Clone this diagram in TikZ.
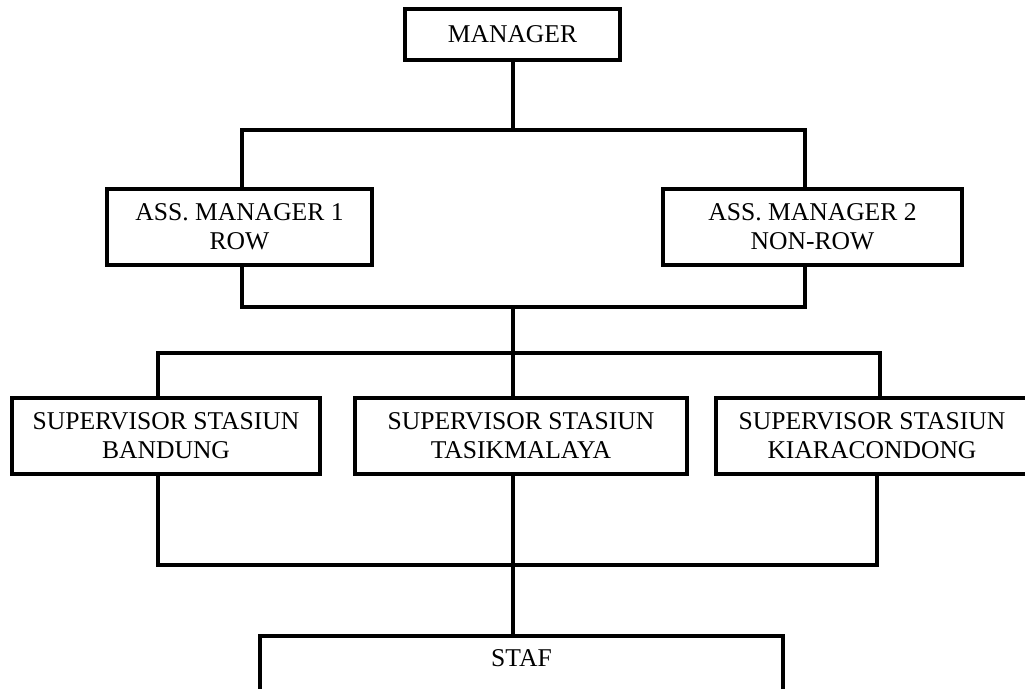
\documentclass[tikz,border=0pt]{standalone}
\usepackage{fontspec}
\setmainfont{Liberation Serif}
\usepackage{tikz}

\begin{document}
\begin{tikzpicture}[x=0.025cm, y=-0.025cm]
                \tikzstyle{unit} = [rectangle, draw=black, line width=2.8pt, inner sep=0pt, minimum height=1.9cm, align=center, font=\fontsize{18.2}{20.8}\selectfont]
                \tikzstyle{line} = [line width=2.8pt, line join=miter]
                \useasboundingbox (0,0) rectangle (1025,689);

                \node (manager) [unit, minimum width=5.375cm, minimum height=1.275cm] at (512.5,34.5) {MANAGER};
                \node (am1) [unit, minimum width=6.625cm] at (239.5,227) {ASS. MANAGER 1\\ROW};
                \node (am2) [unit, minimum width=7.475cm] at (812.5,227) {ASS. MANAGER 2\\NON-ROW};
                \node (sv1) [unit, minimum width=7.7cm] at (166,436) {SUPERVISOR STASIUN\\BANDUNG};
                \node (sv2) [unit, minimum width=8.3cm] at (521,436) {SUPERVISOR STASIUN\\TASIKMALAYA};
                \node (sv3) [unit, minimum width=7.8cm] at (872,436) {SUPERVISOR STASIUN\\KIARACONDONG};
                \node (staf) [unit, minimum width=13.075cm, minimum height=1.6cm, text depth=0.5cm] at (521.5,668) {STAF};

                \coordinate (tL) at (242,130);
                \coordinate (tM) at (513,130);
                \coordinate (tR) at (805,130);
                \coordinate (mL) at (242,307);
                \coordinate (mM) at (513,307);
                \coordinate (mR) at (805,307);
                \coordinate (sL) at (158,353);
                \coordinate (sM) at (513,353);
                \coordinate (sR) at (880,353);
                \coordinate (bL) at (158,565);
                \coordinate (bM) at (513,565);
                \coordinate (bR) at (877,565);

                \draw [line] (manager.south -| tM) -- (tM);
                \draw [line] (am1.north -| tL) -- (tL) -- (tR) -- (am2.north -| tR);
                \draw [line] (am1.south -| mL) -- (mL) -- (mR) -- (am2.south -| mR);
                \draw [line] (mM) -- (sM);
                \draw [line] (sv1.north -| sL) -- (sL) -- (sR) -- (sv3.north -| sR);
                \draw [line] (sM) -- (sv2.north -| sM);
                \draw [line] (sv1.south -| bL) -- (bL) -- (bR) -- (sv3.south -| bR);
                \draw [line] (sv2.south -| bM) -- (bM) -- (staf.north -| bM);
            \end{tikzpicture}
\end{document}
